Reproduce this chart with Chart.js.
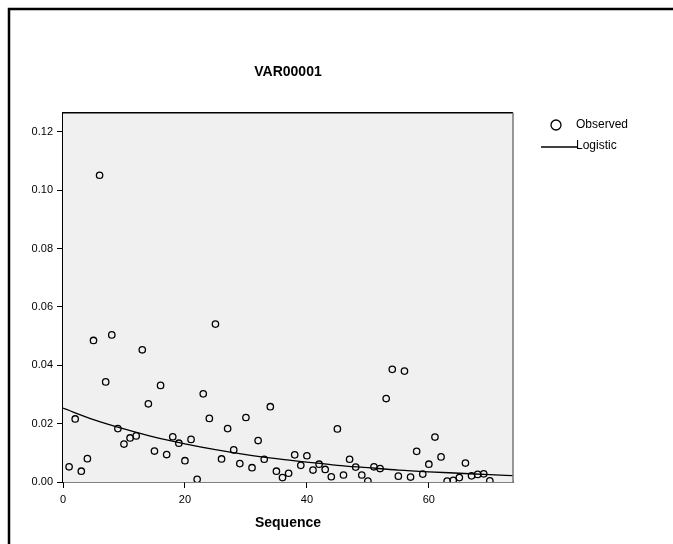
<!DOCTYPE html>
<html>
<head>
<meta charset="utf-8">
<script src="https://cdn.jsdelivr.net/npm/chart.js@4.4.0/dist/chart.umd.min.js"></script>
<style>
  html, body { margin: 0; padding: 0; background: #fff; }
  #box { width: 673px; height: 544px; }
</style>
</head>
<body>
<div id="box"><canvas id="curveFit"></canvas></div>
<script>
const sequence = [1, 2, 3, 4, 5, 6, 7, 8, 9, 10,
    11, 12, 13, 14, 15, 16, 17, 18, 19, 20,
    21, 22, 23, 24, 25, 26, 27, 28, 29, 30,
    31, 32, 33, 34, 35, 36, 37, 38, 39, 40,
    41, 42, 43, 44, 45, 46, 47, 48, 49, 50,
    51, 52, 53, 54, 55, 56, 57, 58, 59, 60,
    61, 62, 63, 64, 65, 66, 67, 68, 69, 70];

const observed = [0.0052, 0.0216, 0.0037, 0.0080, 0.0485, 0.1051, 0.0343, 0.0504, 0.0183, 0.0130,
    0.0151, 0.0158, 0.0453, 0.0268, 0.0106, 0.0331, 0.0094, 0.0155, 0.0133, 0.0073,
    0.0146, 0.0009, 0.0302, 0.0218, 0.0541, 0.0079, 0.0183, 0.0110, 0.0063, 0.0221,
    0.0049, 0.0142, 0.0078, 0.0258, 0.0037, 0.0015, 0.0030, 0.0093, 0.0057, 0.0090,
    0.0041, 0.0061, 0.0043, 0.0018, 0.0182, 0.0024, 0.0078, 0.0051, 0.0024, 0.0003,
    0.0052, 0.0046, 0.0286, 0.0386, 0.0020, 0.0380, 0.0017, 0.0105, 0.0027, 0.0061,
    0.0154, 0.0086, 0.0003, 0.0006, 0.0015, 0.0065, 0.0021, 0.0026, 0.0028, 0.0004];

// logistic fit line
const fitX = [0, 5, 10, 15, 20, 25, 30, 35, 40, 45, 50, 55, 60, 65, 70, 73.8];
const fitY = [0.0253, 0.0214, 0.0182, 0.0154, 0.0131, 0.0111, 0.0094, 0.0080,
    0.0068, 0.0057, 0.0049, 0.0041, 0.0035, 0.0030, 0.0025, 0.0022];

const xTicks = [0, 20, 40, 60];
const yTicks = [0, 0.02, 0.04, 0.06, 0.08, 0.10, 0.12];

const legendLabels = ['Observed', 'Logistic'];

const fonte = 'Arial, "Liberation Sans", sans-serif';

const molduraPlugin = {
    id: 'moldura',
    beforeDatasetsDraw(chart) {
        const ctx = chart.ctx;
        const a = chart.chartArea;
        ctx.save();
        ctx.fillStyle = '#f0f0f0';
        ctx.fillRect(a.left, a.top, a.right - a.left, a.bottom - a.top);
        ctx.restore();
    },
    afterDraw(chart) {
        const ctx = chart.ctx;
        const a = chart.chartArea;
        ctx.save();
        // outer frame
        ctx.strokeStyle = '#000';
        ctx.lineWidth = 2.5;
        ctx.beginPath();
        ctx.moveTo(9, 544);
        ctx.lineTo(9, 9);
        ctx.lineTo(673, 9);
        ctx.stroke();
        // plot frame top / right
        ctx.lineWidth = 1.5;
        ctx.beginPath();
        ctx.moveTo(a.left, a.top);
        ctx.lineTo(a.right, a.top);
        ctx.stroke();
        ctx.strokeStyle = '#777';
        ctx.beginPath();
        ctx.moveTo(a.right, a.top);
        ctx.lineTo(a.right, a.bottom);
        ctx.stroke();
        // legend
        ctx.strokeStyle = '#000';
        ctx.lineWidth = 1.3;
        ctx.beginPath();
        ctx.arc(556, 125, 5, 0, Math.PI * 2);
        ctx.stroke();
        ctx.beginPath();
        ctx.moveTo(541, 147);
        ctx.lineTo(577, 147);
        ctx.stroke();
        ctx.fillStyle = '#000';
        ctx.font = '12px ' + fonte;
        ctx.textBaseline = 'middle';
        ctx.textAlign = 'left';
        ctx.fillText(legendLabels[0], 576, 125);
        ctx.fillText(legendLabels[1], 576, 146);
        ctx.restore();
    }
};

function criarGrafico() {
    const pontos = sequence.map((s, i) => ({ x: s, y: observed[i] }));
    const curva = fitX.map((t, i) => ({ x: t, y: fitY[i] }));

    const config = {
        type: 'scatter',
        data: {
            datasets: [{
                label: legendLabels[0],
                data: pontos,
                pointRadius: 3.2,
                pointBorderWidth: 1.3,
                borderColor: '#000',
                backgroundColor: 'rgba(0,0,0,0)',
                clip: 0,
                order: 1
            }, {
                label: legendLabels[1],
                data: curva,
                showLine: true,
                pointRadius: 0,
                borderWidth: 1.3,
                borderColor: '#000',
                cubicInterpolationMode: 'monotone',
                clip: 0,
                order: 2
            }]
        },
        options: {
            responsive: true,
            maintainAspectRatio: false,
            animation: false,
            layout: {
                padding: { left: 0, right: 160, top: 0, bottom: 0 }
            },
            plugins: {
                legend: { display: false },
                tooltip: { enabled: false },
                title: {
                    display: true,
                    text: 'VAR00001',
                    fullSize: false,
                    color: '#000',
                    font: { family: fonte, size: 14, weight: 'bold' },
                    padding: { top: 64, bottom: 32 }
                }
            },
            scales: {
                x: {
                    type: 'linear',
                    min: 0,
                    max: 73.8,
                    afterFit: function (scale) { scale.height = 62; },
                    afterBuildTicks: function (scale) {
                        scale.ticks = xTicks.map(v => ({ value: v }));
                    },
                    ticks: {
                        color: '#000',
                        font: { family: fonte, size: 11 },
                        padding: 5,
                        maxRotation: 0,
                        callback: v => String(v)
                    },
                    grid: {
                        drawOnChartArea: false,
                        drawTicks: true,
                        tickLength: 6,
                        color: '#000',
                        lineWidth: 1
                    },
                    border: { display: true, color: '#000', width: 1.5 },
                    title: {
                        display: true,
                        text: 'Sequence',
                        color: '#000',
                        font: { family: fonte, size: 14, weight: 'bold' },
                        padding: { top: 4, bottom: 12 }
                    }
                },
                y: {
                    type: 'linear',
                    min: 0,
                    max: 0.1265,
                    afterFit: function (scale) { scale.width = 63; },
                    afterBuildTicks: function (scale) {
                        scale.ticks = yTicks.map(v => ({ value: v }));
                    },
                    ticks: {
                        color: '#000',
                        font: { family: fonte, size: 11 },
                        padding: 4,
                        callback: v => Number(v).toFixed(2)
                    },
                    grid: {
                        drawOnChartArea: false,
                        drawTicks: true,
                        tickLength: 6,
                        color: '#000',
                        lineWidth: 1
                    },
                    border: { display: true, color: '#000', width: 1.5 }
                }
            }
        },
        plugins: [molduraPlugin]
    };

    return new Chart(document.getElementById('curveFit'), config);
}

criarGrafico();
</script>
</body>
</html>
